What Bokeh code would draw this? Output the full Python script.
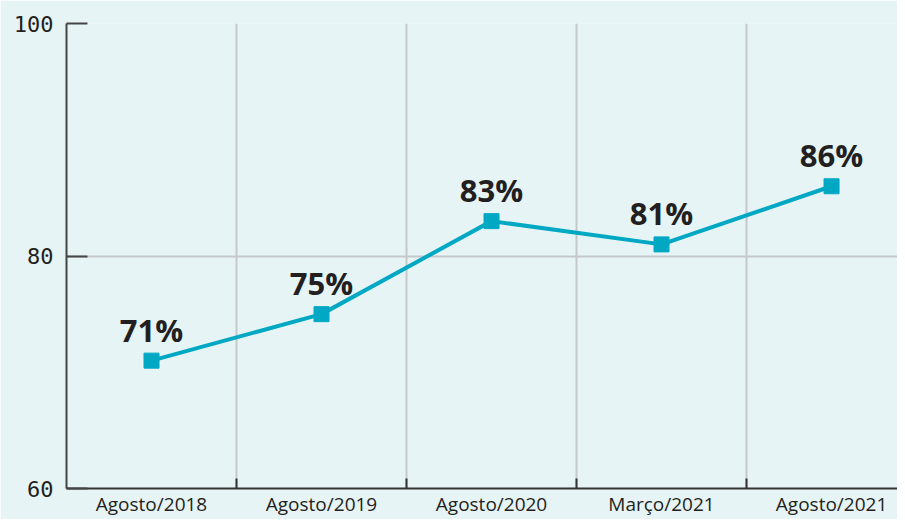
from bokeh.plotting import figure
from bokeh.models import FixedTicker, Range1d, ColumnDataSource, LabelSet
from bokeh.core.properties import value
from bokeh.embed import file_html
from bokeh.resources import INLINE

categories = ["Agosto/2018", "Agosto/2019", "Agosto/2020", "Março/2021", "Agosto/2021"]
values = [71, 75, 83, 81, 86]
labels = ["71%", "75%", "83%", "81%", "86%"]
y_ticks = [60, 80, 100]

xs = [i + 0.5 for i in range(len(categories))]
bounds = [i for i in range(1, len(categories))]

BG = "#e6f4f6"
LINE = "#00a8c4"

p = figure(width=897, height=519, output_backend="svg", toolbar_location=None,
           x_range=Range1d(0, 4.888), y_range=Range1d(60, 100),
           min_border_left=66, min_border_right=0, min_border_top=23, min_border_bottom=20,
           background_fill_color=BG, border_fill_color=BG)
p.outline_line_color = None

src = ColumnDataSource(dict(x=xs, y=values, lab=labels))
p.line("x", "y", source=src, line_color=LINE, line_width=4)
p.scatter("x", "y", source=src, marker="square", size=15, fill_color=LINE, line_color=LINE)

ls = LabelSet(x="x", y="y", text="lab", source=src, y_offset=19, text_align="center",
              text_baseline="alphabetic", text_font=value("Open Sans"), text_font_size=value("31px"),
              text_font_style=value("bold"), text_color=value("#231f20"))
p.add_layout(ls)

# x axis
xa = p.xaxis[0]
xa.ticker = FixedTicker(ticks=xs, minor_ticks=bounds)
xa.major_label_overrides = {x: c for x, c in zip(xs, categories)}
xa.major_tick_in = 0
xa.major_tick_out = 0
xa.minor_tick_in = 10
xa.minor_tick_out = 0
xa.minor_tick_line_color = "#333333"
xa.minor_tick_line_width = 2
xa.axis_line_color = "#333333"
xa.axis_line_width = 2
xa.major_label_text_font = "Open Sans"
xa.major_label_text_font_size = "19px"
xa.major_label_text_color = "#231f20"
xa.major_label_standoff = 2

p.xgrid[0].ticker = FixedTicker(ticks=bounds)
p.xgrid[0].grid_line_color = "#c4c8ca"
p.xgrid[0].grid_line_width = 2

# y axis
ya = p.yaxis[0]
ya.ticker = FixedTicker(ticks=y_ticks)
ya.major_tick_in = 21
ya.major_tick_out = 0
ya.minor_tick_line_color = None
ya.major_tick_line_color = "#444444"
ya.major_tick_line_width = 2
ya.axis_line_color = "#444444"
ya.axis_line_width = 2
ya.major_label_text_font = "DejaVu Sans Mono"
ya.major_label_text_font_size = "22px"
ya.major_label_text_color = "#231f20"
ya.major_label_standoff = 13

p.ygrid[0].ticker = FixedTicker(ticks=y_ticks)
p.ygrid[0].grid_line_color = "#c4c8ca"
p.ygrid[0].grid_line_width = 2

open("out.html", "w").write(file_html(p, INLINE))
